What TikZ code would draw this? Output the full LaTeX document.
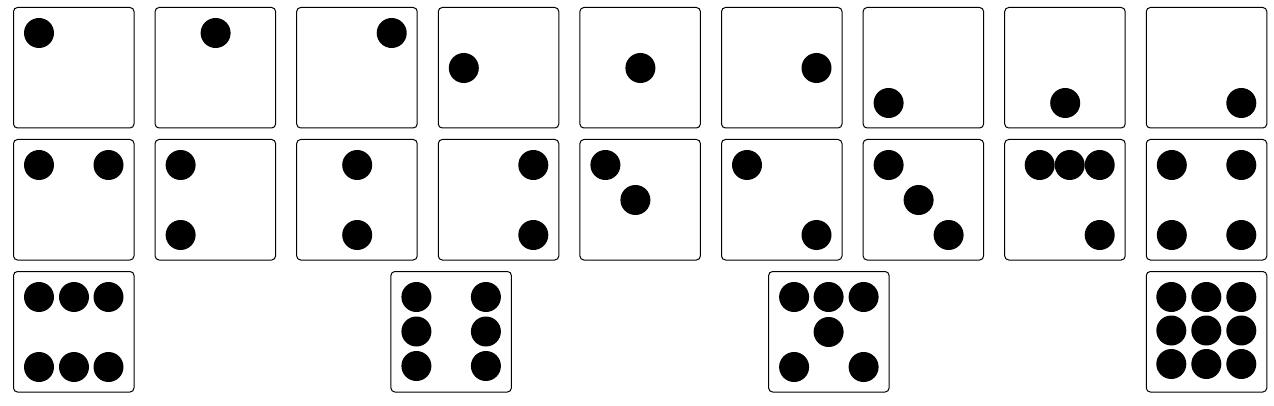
\documentclass[tikz,border=0pt]{standalone}
\usepackage{tikz}

\tikzset{face/.style={draw, line width=1pt, rounded corners=4pt, fill=white},
  pip/.style={fill=black}}

% one die: top left corner, list of pip offsets
\newcommand{\dieface}[3]{%
  \begin{scope}[shift={(#1,#2)}]
    \draw[face] (0,0) rectangle (120.5,120.5);
    \foreach \px/\py in {#3} \fill[pip] (\px,\py) circle (15pt);
  \end{scope}}

\begin{document}
\begin{tikzpicture}[x=1pt,y=-1pt]
\useasboundingbox (0,0) rectangle (1274,406);

% row 1: one pip
\dieface{13.5}{7.5}{25.5/25.5}
\dieface{155.1}{7.5}{60.5/25.5}
\dieface{296.7}{7.5}{95/25.5}
\dieface{438.3}{7.5}{25.5/60.5}
\dieface{579.9}{7.5}{60.5/60.5}
\dieface{721.5}{7.5}{95/60.5}
\dieface{863.1}{7.5}{25.5/95.5}
\dieface{1004.7}{7.5}{60.5/95.5}
\dieface{1146.3}{7.5}{95/95.5}

% row 2: two to four pips
\dieface{13.5}{139.5}{25.5/25.5, 95/25.5}
\dieface{155.1}{139.5}{25.5/25.5, 25.5/95.5}
\dieface{296.7}{139.5}{60.5/25.5, 60.5/95.5}
\dieface{438.3}{139.5}{95/25.5, 95/95.5}
\dieface{579.9}{139.5}{25.5/25.5, 55.5/60.5}
\dieface{721.5}{139.5}{25.5/25.5, 95/95.5}
\dieface{863.1}{139.5}{25.5/25.5, 55.5/60.5, 85.5/95.5}
\dieface{1004.7}{139.5}{35/25.5, 65/25.5, 95/25.5, 95/95.5}
\dieface{1146.3}{139.5}{25.5/25.5, 95/25.5, 25.5/95.5, 95/95.5}

% row 3: six and nine pips
\dieface{13.5}{271.5}{25.5/25.5, 60.5/25.5, 95/25.5, 25.5/95.5, 60.5/95.5, 95/95.5}
\dieface{390.9}{271.5}{25.5/25.5, 95/25.5, 25.5/60, 95/60, 25.5/94.5, 95/94.5}
\dieface{768.6}{271.5}{25.5/25.5, 60/25.5, 95/25.5, 60/60.5, 25.5/95.5, 95/95.5}
\dieface{1146.3}{271.5}{25/25.5, 60/25.5, 95/25.5, 25/59, 60/59, 95/59, 25/92.5, 60/92.5, 95/92.5}

\end{tikzpicture}
\end{document}
